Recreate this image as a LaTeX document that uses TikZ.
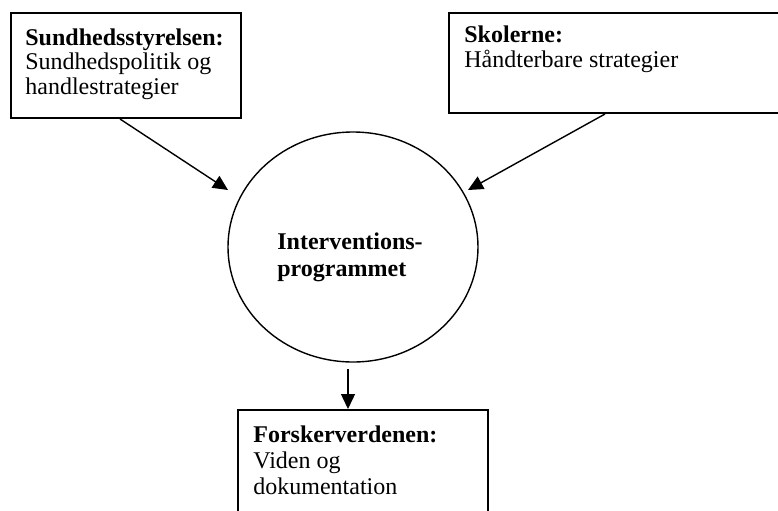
\documentclass[tikz,border=0pt]{standalone}
\usepackage{fontspec}
\setmainfont{Liberation Serif}
\usetikzlibrary{shapes.geometric,arrows.meta}
\newcommand{\txtlines}[2]{{\fontsize{12}{#1}\selectfont\renewcommand{\arraystretch}{1}\begin{tabular}[t]{@{}l@{}}#2\end{tabular}}}
\tikzset{
  boxshape/.style={draw, line width=1pt, rectangle, inner sep=0pt, anchor=north west},
  txt/.style={anchor=base west, inner sep=0pt},
  arr/.style={line width=0.7pt, -{Triangle[length=7.5pt,width=7pt]}},
}
\begin{document}
\begin{tikzpicture}[x=0.5pt,y=-0.5pt]
\useasboundingbox (0,0) rectangle (778,510);
\clip (0,0) rectangle (778,510);
% boxes
\node[boxshape, minimum width=115pt, minimum height=52.5pt] (lbox) at (10,12) {};
\node[boxshape, minimum width=171pt, minimum height=50pt] (rbox) at (448,12) {};
\node[boxshape, minimum width=125pt, minimum height=61pt] (bbox) at (237,409) {};
\node[draw, ellipse, line width=0.7pt, minimum width=125pt, minimum height=115pt, inner sep=0pt] (ell) at (353,247) {};
% texts
\node[txt] (ltxt) at (25,45) {\txtlines{12.25pt}{\textbf{Sundhedsstyrelsen:}\\Sundhedspolitik og\\handlestrategier}};
\node[txt] (rtxt) at (464,42) {\txtlines{12.5pt}{\textbf{Skolerne:}\\Håndterbare strategier}};
\node[txt] (ctxt) at (277,249) {\txtlines{13.5pt}{\textbf{Interventions-}\\\textbf{programmet}}};
\node[txt] (btxt) at (253,442) {\txtlines{13pt}{\textbf{Forskerverdenen:}\\Viden og\\dokumentation}};
% connector ends
\coordinate (la) at ([xshift=55pt]lbox.south west);
\coordinate (lb) at (228,190);
\coordinate (ra) at ([xshift=78.5pt]rbox.south west);
\coordinate (rb) at (468,190);
\coordinate (da) at (348,369);
\draw[arr] (la) -- (lb);
\draw[arr] (ra) -- (rb);
\draw[arr] (da) -- (da |- bbox.north);
\end{tikzpicture}
\end{document}
